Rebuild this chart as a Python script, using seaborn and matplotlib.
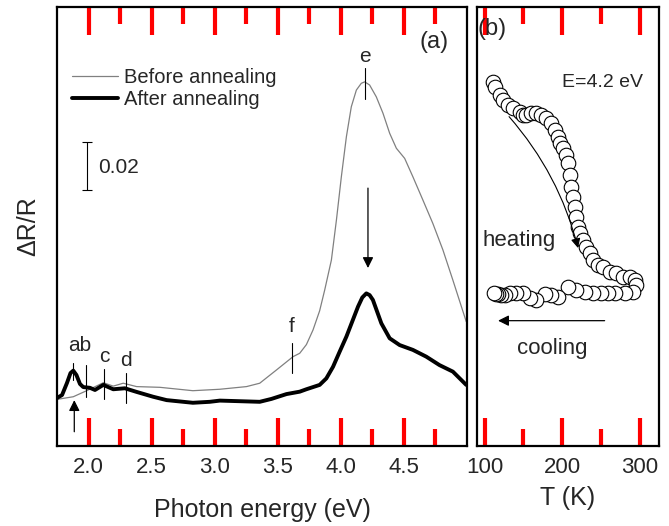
import numpy as np
import matplotlib
matplotlib.use("Agg")
import matplotlib.pyplot as plt
import seaborn as sns
import pandas as pd

# panel (a): reflectance change spectra
energy_before = [1.75, 1.879, 1.985, 2.117, 2.196, 2.275, 2.381, 2.566, 2.827, 3.041,
                 3.252, 3.357, 3.490, 3.621, 3.674, 3.727, 3.779, 3.832, 3.872, 3.925,
                 3.965, 4.004, 4.044, 4.083, 4.123, 4.162, 4.189, 4.228, 4.281, 4.334,
                 4.387, 4.440, 4.506, 4.571, 4.650, 4.729, 4.809, 4.888, 4.994]
dr_before = [0.0193, 0.0204, 0.0229, 0.0262, 0.0248, 0.0260, 0.0246, 0.0243, 0.0229, 0.0235,
             0.0246, 0.0260, 0.0315, 0.0370, 0.0384, 0.0420, 0.0480, 0.0560, 0.0646, 0.0770,
             0.0936, 0.1115, 0.1281, 0.1405, 0.1474, 0.1502, 0.1508, 0.1495, 0.1446, 0.1378,
             0.1295, 0.1233, 0.1191, 0.1115, 0.1019, 0.0922, 0.0812, 0.0687, 0.0515]

energy_after = [1.75, 1.790, 1.829, 1.857, 1.879, 1.904, 1.932, 1.958, 2.011, 2.051,
                2.117, 2.196, 2.288, 2.381, 2.512, 2.619, 2.827, 2.961, 3.041, 3.357,
                3.450, 3.569, 3.674, 3.727, 3.832, 3.885, 3.938, 3.990, 4.044, 4.136,
                4.170, 4.202, 4.228, 4.254, 4.321, 4.387, 4.466, 4.571, 4.677, 4.782,
                4.888, 4.994]
dr_after = [0.0199, 0.0211, 0.0261, 0.0302, 0.0312, 0.0294, 0.0257, 0.0244, 0.0241, 0.0232,
            0.0253, 0.0235, 0.0239, 0.0224, 0.0204, 0.0190, 0.0179, 0.0183, 0.0188, 0.0183,
            0.0195, 0.0215, 0.0225, 0.0235, 0.0253, 0.0280, 0.0328, 0.0390, 0.0453, 0.0577,
            0.0615, 0.0632, 0.0625, 0.0605, 0.0508, 0.0446, 0.0418, 0.0398, 0.0370, 0.0335,
            0.0308, 0.0253]

# panel (b): temperature dependence at E = 4.2 eV
temp_heat = [110.7, 113.0, 119.4, 123.6, 130.1, 136.5, 145.2, 149.4, 153.8, 160.3,
             166.7, 173.2, 179.6, 186.1, 190.3, 194.6, 196.8, 201.0, 205.4, 207.5,
             209.7, 211.9, 213.9, 216.1, 218.3, 220.4, 222.6, 226.8, 231.2, 235.5,
             239.7, 246.2, 252.6, 261.3, 269.9, 278.5, 287.1, 293.5, 295.7, 291.4]
dr_heat = [0.1508, 0.1488, 0.1453, 0.1433, 0.1412, 0.1398, 0.1384, 0.1371, 0.1371, 0.1378,
           0.1378, 0.1371, 0.1357, 0.1336, 0.1308, 0.1281, 0.1253, 0.1233, 0.1205, 0.1171,
           0.1122, 0.1074, 0.1032, 0.0991, 0.0949, 0.0908, 0.0881, 0.0853, 0.0825, 0.0798,
           0.0770, 0.0749, 0.0742, 0.0722, 0.0715, 0.0701, 0.0701, 0.0687, 0.0667, 0.0639]
temp_cool = [280.6, 267.7, 259.1, 250.6, 239.7, 229.0, 218.3, 207.5, 194.6, 186.1,
             177.4, 166.7, 158.1, 149.4, 140.9, 132.3, 125.8, 121.5, 117.2, 114.0, 111.6]
dr_cool = [0.0632, 0.0632, 0.0632, 0.0632, 0.0632, 0.0639, 0.0646, 0.0657, 0.0616, 0.0625,
           0.0629, 0.0605, 0.0612, 0.0632, 0.0635, 0.0632, 0.0625, 0.0625, 0.0629, 0.0630, 0.0632]

sns.set_theme(style="ticks")
plt.rcParams['font.family'] = ['Liberation Sans', 'DejaVu Sans']

fig = plt.figure(figsize=(6.69, 5.26), dpi=100)
ax1 = fig.add_axes([57 / 669, 80 / 526, 410 / 669, 439 / 526])
ax2 = fig.add_axes([477 / 669, 80 / 526, 182 / 669, 439 / 526])

df_b = pd.DataFrame({'E': energy_before, 'dR': dr_before})
df_a = pd.DataFrame({'E': energy_after, 'dR': dr_after})
sns.lineplot(data=df_b, x='E', y='dR', ax=ax1, color='#808080', lw=0.9,
             label='Before annealing', sort=False)
sns.lineplot(data=df_a, x='E', y='dR', ax=ax1, color='black', lw=2.8,
             label='After annealing', sort=False)

ax1.set_xlim(1.75, 5.0)
ax1.set_ylim(0, 0.1818)
ax1.set_xticks([2.0, 2.5, 3.0, 3.5, 4.0, 4.5])
ax1.set_xticks(np.arange(2.25, 5.0, 0.5), minor=True)
ax1.tick_params(axis='y', left=False, right=False, labelleft=False)
ax1.set_xlabel('Photon energy (eV)', fontsize=18, labelpad=14)
ax1.set_ylabel('ΔR/R', fontsize=18, labelpad=12)

leg = ax1.legend(loc='upper left', bbox_to_anchor=(0.036, 0.86), frameon=False,
                 fontsize=14.5, handlelength=2.3, handletextpad=0.3,
                 labelspacing=0.15, borderpad=0, borderaxespad=0)

# scale bar
ax1.errorbar([1.985], [0.1159], yerr=[0.0100], color='black', lw=0.8, capsize=3.5,
             capthick=0.8)
ax1.text(2.075, 0.1155, '0.02', fontsize=15, va='center', ha='left')

ax1.text(4.735, 0.1673, '(a)', fontsize=17, ha='center', va='center')

# feature markers
kw = dict(color='black', lw=0.8)
ax1.plot([4.189, 4.189], [0.1437, 0.1565], **kw)
ax1.text(4.189, 0.1615, 'e', fontsize=15, ha='center', va='center')
ax1.plot([3.613, 3.613], [0.0302, 0.0427], **kw)
ax1.text(3.613, 0.0494, 'f', fontsize=15, ha='center', va='center')
ax1.plot([1.879, 1.879], [0.0273, 0.0344], **kw)
ax1.plot([1.980, 1.980], [0.0203, 0.0335], **kw)
ax1.text(1.932, 0.0418, 'ab', fontsize=15, ha='center', va='center')
ax1.plot([2.125, 2.125], [0.0195, 0.0319], **kw)
ax1.text(2.125, 0.0369, 'c', fontsize=15, ha='center', va='center')
ax1.plot([2.294, 2.294], [0.0178, 0.0302], **kw)
ax1.text(2.294, 0.0356, 'd', fontsize=15, ha='center', va='center')

arrow = dict(arrowstyle='-|>', color='black', lw=0.9, mutation_scale=16, shrinkA=0, shrinkB=0)
ax1.annotate('', xy=(4.215, 0.0737), xytext=(4.215, 0.1068), arrowprops=arrow)
ax1.annotate('', xy=(1.887, 0.0190), xytext=(1.887, 0.0059), arrowprops=arrow)

# panel (b)
sns.scatterplot(x=temp_heat, y=dr_heat, ax=ax2, s=110, facecolor='white',
                edgecolor='black', linewidth=0.8, zorder=3)
sns.scatterplot(x=temp_cool, y=dr_cool, ax=ax2, s=110, facecolor='white',
                edgecolor='black', linewidth=0.8, zorder=3)
ax2.set_xlim(90, 325)
ax2.set_ylim(0, 0.1818)
ax2.set_xticks([100, 200, 300])
ax2.set_xticks([150, 250], minor=True)
ax2.tick_params(axis='y', left=False, right=False, labelleft=False)
ax2.set_xlabel('T (K)', fontsize=18, labelpad=6)
ax2.set_ylabel('')

ax2.text(91, 0.1727, '(b)', fontsize=17, ha='left', va='center')
ax2.text(252, 0.1507, 'E=4.2 eV', fontsize=14, ha='center', va='center')
ax2.annotate('', xy=(220.4, 0.0820), xytext=(131.4, 0.1364),
             arrowprops=dict(arrowstyle='-|>', color='black', lw=0.8, mutation_scale=14,
                             shrinkA=0, shrinkB=0, connectionstyle='arc3,rad=-0.12'))
ax2.text(145, 0.0853, 'heating', fontsize=16, ha='center', va='center')
ax2.annotate('', xy=(117.2, 0.0519), xytext=(254.8, 0.0519),
             arrowprops=dict(arrowstyle='-|>', color='black', lw=0.9, mutation_scale=16,
                             shrinkA=0, shrinkB=0))
ax2.text(187, 0.0402, 'cooling', fontsize=16, ha='center', va='center')

for ax in (ax1, ax2):
    for sp in ax.spines.values():
        sp.set_linewidth(1.6)
        sp.set_color('black')
    ax.tick_params(axis='x', which='major', direction='in', length=20, width=3,
                   color='red', top=True, bottom=True, labelsize=16, pad=8)
    ax.tick_params(axis='x', which='minor', direction='in', length=12, width=3,
                   color='red', top=True, bottom=True)

fig.savefig('out.png', dpi=100)
